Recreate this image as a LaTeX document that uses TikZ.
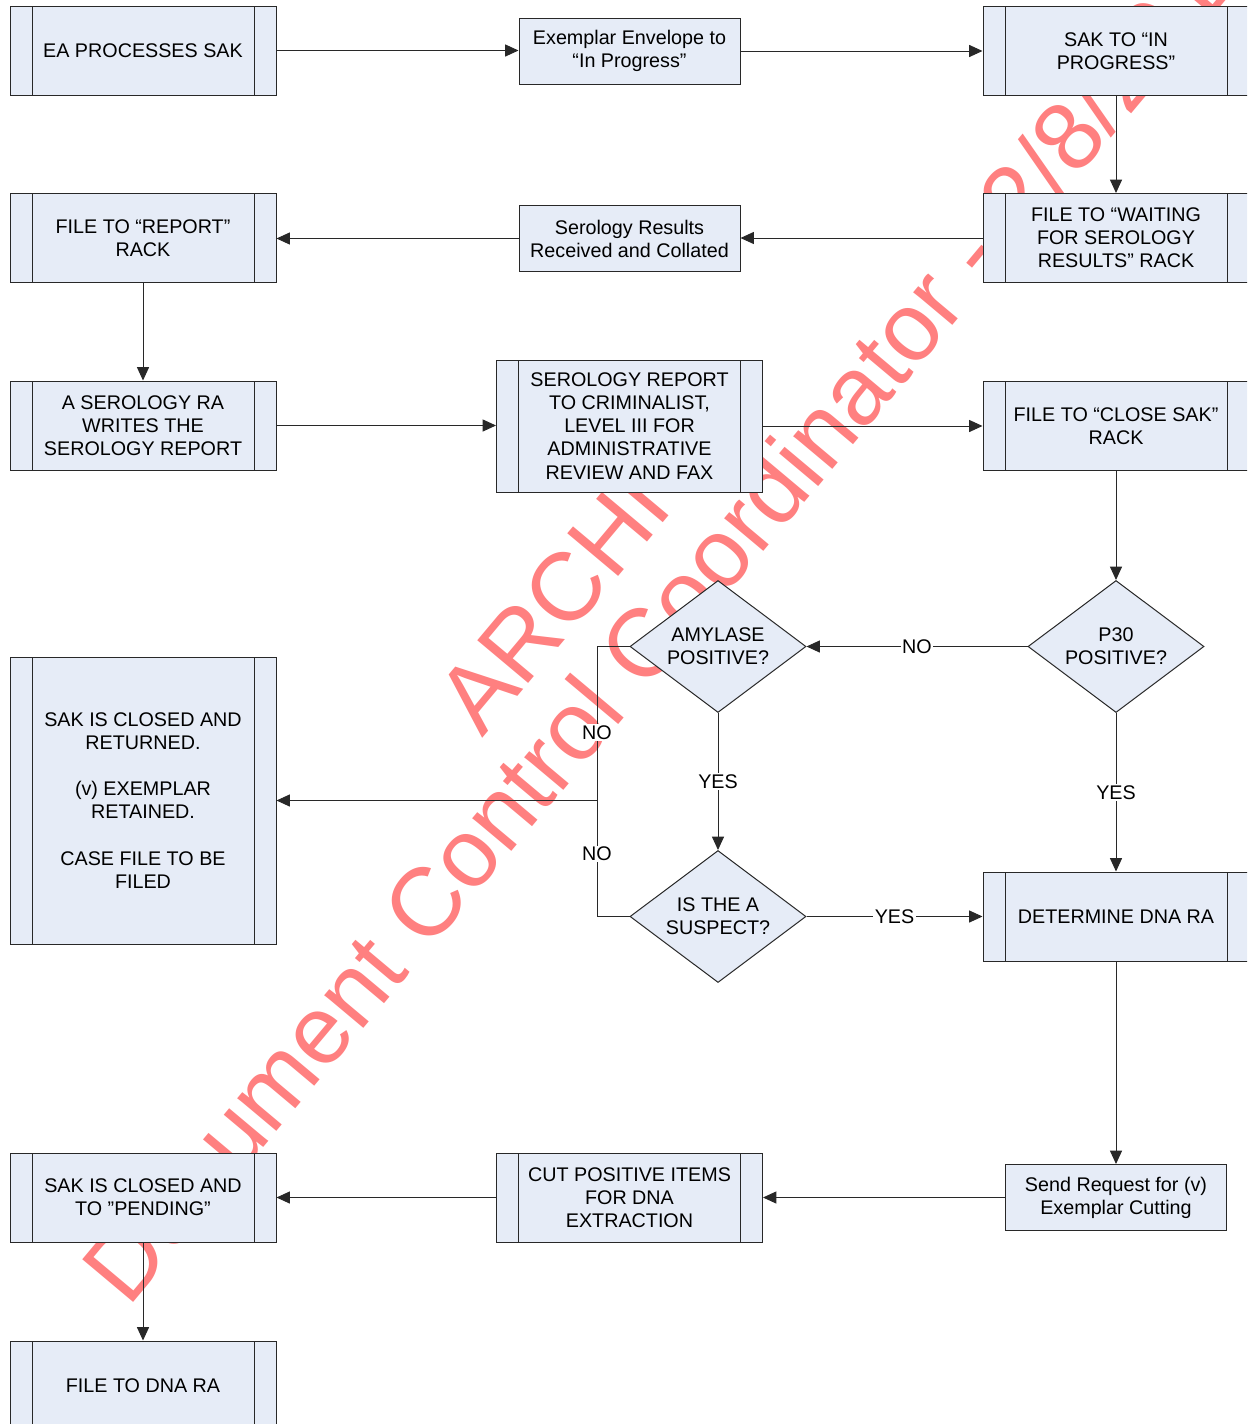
\documentclass[tikz,border=0pt]{standalone}
\usepackage{fontspec}
\setmainfont{Liberation Sans}
\usetikzlibrary{arrows.meta,shapes.geometric}
\definecolor{boxfill}{RGB}{230,236,247}
\definecolor{edge}{RGB}{40,40,40}
\definecolor{stamp}{RGB}{255,128,128}
\begin{document}
\begin{tikzpicture}[x=0.75pt,y=-0.75pt,
  txt/.style={font=\fontsize{14.8}{17.3}\selectfont, align=center, text=black},
  flow/.style={draw=edge, line width=0.75pt, -{Triangle[length=10pt,width=9pt]}},
  plain/.style={draw=edge, line width=0.75pt},
  base box/.style={txt, draw=edge, line width=0.75pt, fill=boxfill, inner sep=0pt},
  proc/.style={base box, rectangle, minimum width=199.5pt, minimum height=66.75pt,
    path picture={
      \draw[edge, line width=0.75pt]
        ([xshift=16.5pt]path picture bounding box.north west) --
        ([xshift=16.5pt]path picture bounding box.south west);
      \draw[edge, line width=0.75pt]
        ([xshift=-16.5pt]path picture bounding box.north east) --
        ([xshift=-16.5pt]path picture bounding box.south east);
    }},
  note/.style={base box, rectangle, minimum width=165.75pt, minimum height=49.5pt},
  decision/.style={base box, diamond, aspect=1.333, minimum width=132pt, minimum height=99pt},
  answer/.style={txt, fill=white, inner sep=1pt},
  stamp text/.style={text=stamp, font=\fontsize{72.4}{80}\selectfont,
    inner sep=0pt, anchor=base west, rotate=50}
]
\clip (0,0) rectangle (1247,1424);
\fill[white] (0,0) rectangle (1247,1424);

% watermark stamp, behind the chart
\node[stamp text] (stampB) at (128,1309) {Document Control Coordinator - 2/8/2012};
\node[stamp text] (stampA) at (482,739) {ARCHI};

% process steps
\node[proc] (ea) at (143,50.5) {EA PROCESSES SAK};
\node[note] (exen) at (629.5,51) {Exemplar Envelope to\\“In Progress”};
\node[proc] (sakip) at (1116,51) {SAK TO “IN\\PROGRESS”};
\node[proc] (wait) at (1116,238) {FILE TO “WAITING\\FOR SEROLOGY\\RESULTS” RACK};
\node[note] (serres) at (629.5,238.5) {Serology Results\\Received and Collated};
\node[proc] (report) at (143,238) {FILE TO “REPORT”\\RACK};
\node[proc] (writes) at (143,425.5) {A SEROLOGY RA\\WRITES THE\\SEROLOGY REPORT};
\node[proc, minimum height=99pt] (review) at (629.5,426)
  {SEROLOGY REPORT\\TO CRIMINALIST,\\LEVEL III FOR\\ADMINISTRATIVE\\REVIEW AND FAX};
\node[proc] (close) at (1116,426) {FILE TO “CLOSE SAK”\\RACK};
\node[decision] (p30) at (1116,646.5) {P30\\POSITIVE?};
\node[decision] (amy) at (718,646.5) {AMYLASE\\POSITIVE?};
\node[decision] (suspect) at (718,916.5) {IS THE A\\SUSPECT?};
\node[proc] (dna) at (1116,916.5) {DETERMINE DNA RA};
\node[proc, minimum height=215.25pt] (returned) at (143,800.5)
  {SAK IS CLOSED AND\\RETURNED.\\[17.3pt](v) EXEMPLAR\\RETAINED.\\[17.3pt]CASE FILE TO BE\\FILED};
\node[note] (send) at (1116,1197.5) {Send Request for (v)\\Exemplar Cutting};
\node[proc] (cut) at (629.5,1197.5) {CUT POSITIVE ITEMS\\FOR DNA\\EXTRACTION};
\node[proc] (pending) at (143,1197.5) {SAK IS CLOSED AND\\TO ”PENDING”};
\node[proc] (dnara) at (143,1385.5) {FILE TO DNA RA};

% connectors
\draw[flow] (ea.east) -- (ea.east -| exen.west);
\draw[flow] (exen.east) -- (exen.east -| sakip.west);
\draw[flow] (sakip.south) -- (wait.north);
\draw[flow] (wait.west) -- (wait.west -| serres.east);
\draw[flow] (serres.west) -- (serres.west -| report.east);
\draw[flow] (report.south) -- (writes.north);
\draw[flow] (writes.east) -- (writes.east -| review.west);
\draw[flow] (review.east) -- (review.east -| close.west);
\draw[flow] (close.south) -- (p30.north);
\draw[flow] (p30.west) -- node[answer] {NO} (amy.east);
\draw[flow] (p30.south) -- node[answer] {YES} (dna.north);
\draw[flow] (amy.south) -- node[answer] {YES} (suspect.north);
\draw[flow] (suspect.east) -- node[answer] {YES} (dna.west);
\coordinate (merge) at (597,800.5);
\draw[plain] (amy.west) -| node[answer, pos=0.78] {NO} (merge);
\draw[plain] (suspect.west) -| node[answer, pos=0.77] {NO} (merge);
\draw[flow] (merge) -- (merge -| returned.east);
\draw[flow] (dna.south) -- (send.north);
\draw[flow] (send.west) -- (send.west -| cut.east);
\draw[flow] (cut.west) -- (cut.west -| pending.east);
\draw[flow] (pending.south) -- (dnara.north);
\end{tikzpicture}
\end{document}
